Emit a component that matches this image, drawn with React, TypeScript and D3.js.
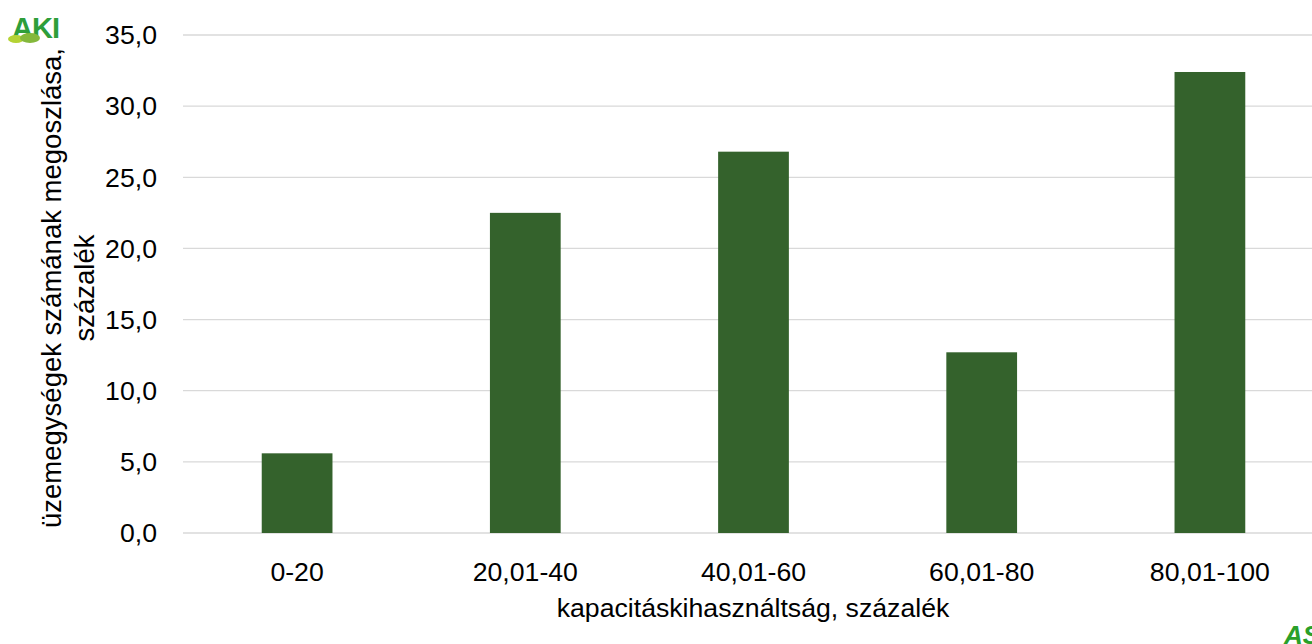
import React from "react";
import * as d3 from "d3";

const categories = ["0-20", "20,01-40", "40,01-60", "60,01-80", "80,01-100"];
const values = [5.6, 22.5, 26.8, 12.7, 32.4];
const yTicks = [0, 5, 10, 15, 20, 25, 30, 35];

const W = 1312;
const H = 644;
const left = 183;
const right = 1324;
const top = 35;
const bottom = 533;

export default function App() {
  const x = d3.scaleBand<string>().domain(categories).range([left, right]).paddingInner(0.69).paddingOuter(0.345);
  const y = d3.scaleLinear().domain([0, 35]).range([bottom, top]);
  const fmt = (v: number) => v.toFixed(1).replace(".", ",");
  const font = "Liberation Sans, Arial, sans-serif";
  const fs = 26.67;
  return (
    <svg width={W} height={H} style={{ position: "absolute", left: 0, top: 0, background: "#fff" }} fontFamily={font}>
      {yTicks.map((t) => (
        <g key={t}>
          <line x1={left} x2={right} y1={y(t)} y2={y(t)} stroke="#d9d9d9" strokeWidth={1.3} />
          <text x={157} y={y(t)} dy="0.35em" textAnchor="end" fontSize={fs} fill="#000">
            {fmt(t)}
          </text>
        </g>
      ))}
      {categories.map((c, i) => (
        <rect key={c} x={x(c)!} y={y(values[i])} width={x.bandwidth()} height={y(0) - y(values[i])} fill="#34622c" />
      ))}
      {categories.map((c) => (
        <text key={c} x={x(c)! + x.bandwidth() / 2} y={581} textAnchor="middle" fontSize={fs} fill="#000">
          {c}
        </text>
      ))}
      <text x={753} y={617} textAnchor="middle" fontSize={fs} fill="#000">
        kapacitáskihasználtság, százalék
      </text>
      <g transform="translate(0,288) rotate(-90)">
        <text x={0} y={61} textAnchor="middle" fontSize={27.5} fill="#000">
          üzemegységek számának megoszlása,
        </text>
        <text x={0} y={94} textAnchor="middle" fontSize={27.5} fill="#000">
          százalék
        </text>
      </g>
      {/* AKI logo */}
      <g>
        <text x={12} y={38} fontSize={29} fontWeight="bold" fill="#2e9e3a" letterSpacing={-1}>
          AKI
        </text>
        <ellipse cx={16} cy={39} rx={8} ry={4} fill="#b5d334" />
        <ellipse cx={30} cy={38} rx={10} ry={5} fill="#84b83c" />
      </g>
      {/* AS logo bottom right */}
      <text x={1284} y={644} fontSize={26} fontWeight="bold" fontStyle="italic" fill="#2aa02a">
        AS
      </text>
    </svg>
  );
}
